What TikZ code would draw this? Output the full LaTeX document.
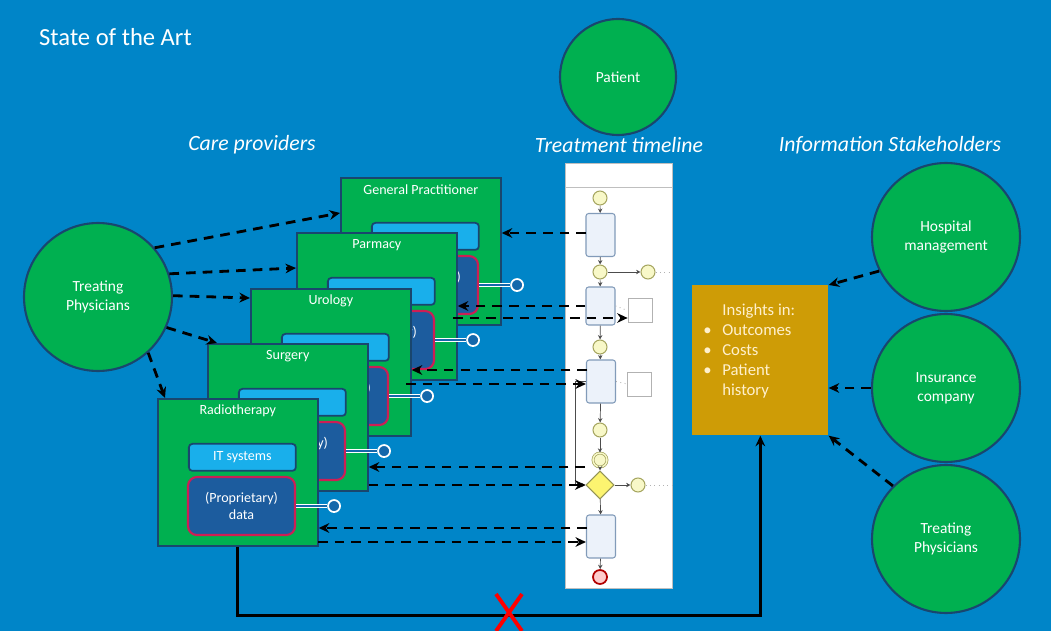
\documentclass[tikz,border=0pt]{standalone}
\usepackage{fontspec}
\setmainfont{Carlito}
\usepackage{tikz}
\usetikzlibrary{arrows.meta,shapes.geometric}

\definecolor{bgblue}{RGB}{0,133,200}
\definecolor{boxgreen}{RGB}{0,176,80}
\definecolor{edgeblue}{RGB}{25,70,110}
\definecolor{itblue}{RGB}{25,175,235}
\definecolor{datablue}{RGB}{28,92,158}
\definecolor{datared}{RGB}{205,30,85}
\definecolor{insgold}{RGB}{206,156,6}
\definecolor{cream}{RGB}{255,240,205}
\definecolor{evfill}{RGB}{248,248,200}
\definecolor{evedge}{RGB}{165,165,95}
\definecolor{taskfill}{RGB}{236,242,250}
\definecolor{taskedge}{RGB}{130,155,185}

\tikzset{
  actor/.style={circle, draw=edgeblue, line width=1.2pt, fill=boxgreen, text=white,
    align=center, inner sep=0pt, font=\fontsize{8.8}{10.8}\selectfont},
  heading/.style={text=white, font=\itshape\fontsize{12.4}{14}\selectfont},
  provbox/.style={draw=edgeblue, line width=1pt, fill=boxgreen, anchor=north west,
    minimum width=3.2cm, minimum height=2.94cm, inner sep=0pt},
  provtitle/.style={text=white, inner sep=0pt, font=\fontsize{8}{9.5}\selectfont},
  itbox/.style={draw=edgeblue, line width=1pt, fill=itblue, rounded corners=2pt, anchor=north west,
    minimum width=2.14cm, minimum height=0.54cm, inner sep=0pt, text=white,
    font=\fontsize{8}{9.5}\selectfont},
  databox/.style={draw=datared, line width=1.2pt, fill=datablue, rounded corners=5pt, anchor=north west,
    minimum width=2.14cm, minimum height=1.16cm, inner sep=0pt, align=center, text=white,
    font=\fontsize{8}{9.6}\selectfont},
  plugend/.style={circle, draw=white, line width=1pt, fill=datablue!70!bgblue, minimum size=0.24cm, inner sep=0pt},
  plug/.style={draw=white, double=datablue!70!bgblue, double distance=1.4pt, line width=0.7pt},
  flow/.style={->, line width=1.6pt, dash pattern=on 5.5pt off 4pt},
  event/.style={circle, draw=evedge, fill=evfill, line width=0.6pt, minimum size=0.28cm, inner sep=0pt},
  task/.style={rectangle, rounded corners=1.5pt, draw=taskedge, fill=taskfill, line width=0.6pt,
    minimum width=0.58cm, minimum height=0.86cm, inner sep=0pt},
  docbox/.style={draw=gray!60, fill=white, minimum width=0.48cm, minimum height=0.48cm, inner sep=0pt},
  seq/.style={-{Stealth[length=2.5pt,width=2.5pt]}, draw=gray!60!black, line width=0.4pt},
  assoc/.style={draw=gray!60, dotted, line width=0.5pt}
}

\begin{document}
\begin{tikzpicture}[x=0.02cm, y=-0.02cm, >={Stealth[length=6pt,width=5.5pt]}]
% Background
\fill[bgblue] (0,0) rectangle (1051,631);
\useasboundingbox (0,0) rectangle (1051,631);

% Title and headings
\node[text=white, anchor=west, font=\fontsize{14}{16}\selectfont] (title) at (33,37) {State of the Art};
\node[heading] (h-care) at (252,145) {Care providers};
\node[heading] (h-time) at (619,145) {Treatment timeline};
\node[heading] (h-info) at (890,145) {Information Stakeholders};

% Actors
\node[actor, minimum size=2.32cm] (pat) at (618,77) {Patient};
\node[actor, minimum size=2.96cm] (tpL) at (98,297) {Treating\\Physicians};
\node[actor, minimum size=2.96cm] (hosp) at (946,237) {Hospital\\management};
\node[actor, minimum size=2.96cm] (insur) at (946,388) {Insurance\\company};
\node[actor, minimum size=2.96cm] (tpR) at (946,539) {Treating\\Physicians};

% Care providers (back to front)
\node[provbox] (gp) at (340,177) {};
\node[provtitle] (gp-t) at ([yshift=-0.26cm]gp.north) {General Practitioner};
\node[itbox] (gp-it) at ([xshift=0.62cm,yshift=-0.9cm]gp.north west) {};
\node[databox] (gp-d) at ([xshift=0.6cm,yshift=-1.56cm]gp.north west) {(Proprietary)\\data};
\node[plugend] (gp-p) at ([xshift=0.76cm]gp-d.east) {};
\draw[plug] (gp-d.east) -- (gp-p);

\node[provbox] (parm) at (296,232) {};
\node[provtitle] (parm-t) at ([yshift=-0.26cm]parm.north) {Parmacy};
\node[itbox] (parm-it) at ([xshift=0.62cm,yshift=-0.9cm]parm.north west) {};
\node[databox] (parm-d) at ([xshift=0.6cm,yshift=-1.56cm]parm.north west) {(Proprietary)\\data};
\node[plugend] (parm-p) at ([xshift=0.76cm]parm-d.east) {};
\draw[plug] (parm-d.east) -- (parm-p);

\node[provbox] (uro) at (250,288) {};
\node[provtitle] (uro-t) at ([yshift=-0.26cm]uro.north) {Urology};
\node[itbox] (uro-it) at ([xshift=0.62cm,yshift=-0.9cm]uro.north west) {};
\node[databox] (uro-d) at ([xshift=0.6cm,yshift=-1.56cm]uro.north west) {(Proprietary)\\data};
\node[plugend] (uro-p) at ([xshift=0.76cm]uro-d.east) {};
\draw[plug] (uro-d.east) -- (uro-p);

\node[provbox] (surg) at (207,343) {};
\node[provtitle] (surg-t) at ([yshift=-0.26cm]surg.north) {Surgery};
\node[itbox] (surg-it) at ([xshift=0.62cm,yshift=-0.9cm]surg.north west) {};
\node[databox] (surg-d) at ([xshift=0.6cm,yshift=-1.56cm]surg.north west) {(Proprietary)\\data};
\node[plugend] (surg-p) at ([xshift=0.76cm]surg-d.east) {};
\draw[plug] (surg-d.east) -- (surg-p);

\node[provbox] (radio) at (157,398) {};
\node[provtitle] (radio-t) at ([yshift=-0.26cm]radio.north) {Radiotherapy};
\node[itbox] (radio-it) at ([xshift=0.62cm,yshift=-0.9cm]radio.north west) {IT systems};
\node[databox] (radio-d) at ([xshift=0.6cm,yshift=-1.56cm]radio.north west) {(Proprietary)\\data};
\node[plugend] (radio-p) at ([xshift=0.76cm]radio-d.east) {};
\draw[plug] (radio-d.east) -- (radio-p);

% Treatment timeline (BPMN process)
\node[draw=gray!50, fill=white, anchor=north west, minimum width=2.14cm, minimum height=8.5cm, inner sep=0pt] (tl) at (565,163) {};
\draw[gray!50] (565,187) -- (672,187);
\node[event] (ev1) at (600,198) {};
\node[task] (t1) at (600.5,235) {};
\node[event] (ev2) at (600,272) {};
\node[event] (ev2b) at (648,272) {};
\node[task, minimum height=0.76cm] (t2) at (600.5,306) {};
\node[docbox] (d1) at (640,310.5) {};
\node[event] (ev3) at (600,347) {};
\node[task] (t3) at (601,381.5) {};
\node[docbox] (d2) at (639.5,384) {};
\node[event] (ev4) at (600,430) {};
\node[event, double=evfill, double distance=0.8pt, line width=0.4pt] (ev5) at (600,460) {};
\node[diamond, draw=evedge!90!black, fill=yellow!45!evfill, line width=0.6pt, minimum size=0.56cm, inner sep=0pt] (gw) at (600,485) {};
\node[event] (ev6) at (638,485) {};
\node[task] (t4) at (601,536.5) {};
\node[event, draw=red!70!black, fill=red!20, line width=1pt] (ev7) at (600,577) {};
\draw[seq] (ev1) -- (t1);
\draw[seq] (t1) -- (ev2);
\draw[seq] (ev2) -- (t2);
\draw[seq] (t2) -- (ev3);
\draw[seq] (ev3) -- (t3);
\draw[seq] (t3) -- (ev4);
\draw[seq] (ev4) -- (ev5);
\draw[seq] (ev5) -- (gw);
\draw[seq] (gw) -- (t4);
\draw[seq] (t4) -- (ev7);
\draw[seq] (ev2) -- (ev2b);
\draw[seq] (gw) -- (ev6);
\draw[seq] (t3.west) -- ++(-11,0) |- (gw.west);
\draw[assoc] (t2.east) -- (d1.west);
\draw[assoc] (t3.east) -- (d2.west);
\draw[assoc] (ev2b.east) -- (ev2b.east -| tl.east);
\draw[assoc] (ev6.east) -- (ev6.east -| tl.east);

% Physicians instruct the care providers
\draw[flow] (tpL.41) -- ([yshift=-0.72cm]gp.north west);
\draw[flow] (tpL.18) -- ([yshift=-0.72cm]parm.north west);
\draw[flow] (tpL.1) -- ([yshift=-0.2cm]uro.north west);
\draw[flow] (tpL.-24) -- ([xshift=0.2cm]surg.north west);
\draw[flow] (tpL.-48) -- ([xshift=0.16cm]radio.north west);

% Exchange with the timeline
\coordinate (gp-in) at (586,233);
\coordinate (parm-out) at (453,318);
\coordinate (uro-in) at (587,370);
\coordinate (uro-out) at (406,384);
\coordinate (surg-in) at (585,467);
\coordinate (radio-in) at (587,528);
\coordinate (radio-out) at (318,542);
\draw[flow] (gp-in) -- (gp-in -| gp.east);
\draw[flow] (t2.west) -- (t2.west -| parm.east);
\draw[flow] (parm-out) -- (parm-out -| d1.west);
\draw[flow] (uro-in) -- (uro-in -| uro.east);
\draw[flow] (uro-out) -- (uro-out -| t3.west);
\draw[flow] (surg-in) -- (surg-in -| surg.east);
\draw[flow] (gw.west -| surg.east) -- (gw.west);
\draw[flow] (radio-in) -- (radio-in -| radio.east);
\draw[flow] (radio-out) -- (radio-out -| t4.west);

% Insights
\node[fill=insgold, anchor=north west, minimum width=2.72cm, minimum height=3.0cm, inner sep=0pt] (ins) at (692,285) {};
\node[anchor=north west, text=cream, align=left, inner sep=0pt, font=\fontsize{9.5}{11.3}\selectfont] (ins-txt) at (703,304)
  {\hspace*{10.8pt}Insights in:\\
   \makebox[10.8pt][l]{\textbullet}Outcomes\\
   \makebox[10.8pt][l]{\textbullet}Costs\\
   \makebox[10.8pt][l]{\textbullet}Patient\\
   \hspace*{10.8pt}history};

% Stakeholders want insights
\draw[flow] (hosp.207) -- (ins.north east);
\draw[flow] (insur.west) -- (insur.west -| ins.east);
\draw[flow] (tpR.135) -- (ins.south east);

% Missing link from data to insights
\draw[->, line width=1.6pt] (radio.south) -- ++(0,69) -| (ins.south);
\draw[red, line width=2.2pt] (496,594) -- (522,631) (522,594) -- (496,631);
\end{tikzpicture}
\end{document}
